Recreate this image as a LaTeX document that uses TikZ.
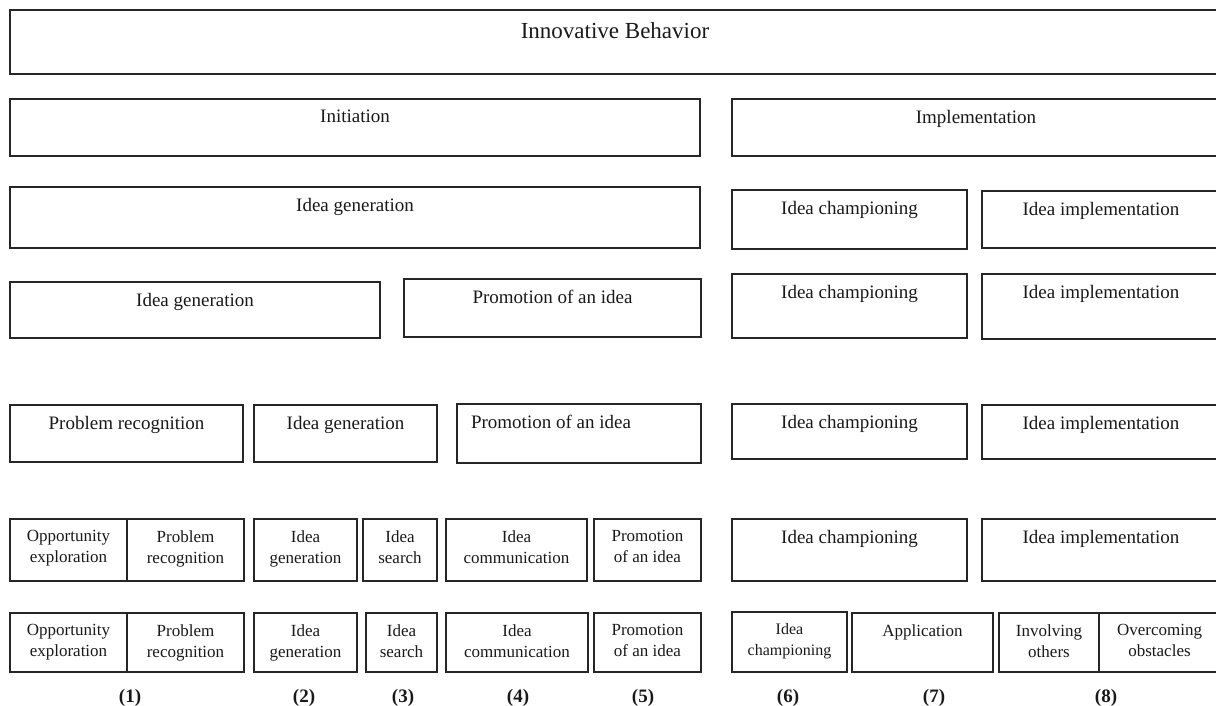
\documentclass[tikz,border=0pt]{standalone}
\usepackage{fontspec}
\setmainfont{Liberation Serif}
\usetikzlibrary{positioning,fit}
\tikzset{
    box/.style={rectangle, draw=black!85, line width=1.2pt, inner sep=0pt, outer sep=0pt},
    lab/.style={anchor=north, inner sep=0pt, yshift=-11pt, align=center, text=black!90, font={\fontsize{19}{21}\selectfont}},
    slab/.style={lab, font={\fontsize{17}{21}\selectfont}},
    tlab/.style={anchor=north, inner sep=0pt, yshift=-12.5pt, text=black!90, font={\fontsize{23}{26}\selectfont}},
    num/.style={inner sep=0pt, text=black!90, font={\bfseries\fontsize{19}{21}\selectfont}},
}

\begin{document}
\begin{tikzpicture}[x=1pt, y=-1pt]
    \path[use as bounding box] (0,0) rectangle (1216,705);
    \clip (0,0) rectangle (1216,705);

    % top level
    \node[box, fit={(10,10) (1220,74)}, label={[tlab]north:Innovative Behavior}] (ib) {};

    % phases
    \node[box, fit={(10,99) (700,156)}, label={[lab]north:Initiation}] (init) {};
    \node[box, fit={(732,99) (1220,156)}, label={[lab]north:Implementation}] (impl) {};

    % two-phase models
    \node[box, fit={(10,187) (700,248)}, label={[lab]north:Idea generation}] (gen2) {};
    \node[box, fit={(732,190) (967,249)}, label={[lab]north:Idea championing}] (champ2) {};
    \node[box, fit={(982,191) (1220,248)}, label={[lab]north:Idea implementation}] (imp2) {};

    % three-phase models
    \node[box, fit={(10,282) (380,338)}, label={[lab]north:Idea generation}] (gen3) {};
    \node[box, fit={(404,279) (701,337)}, label={[lab]north:Promotion of an idea}] (promo3) {};
    \node[box, fit={(732,274) (967,338)}, label={[lab]north:Idea championing}] (champ3) {};
    \node[box, fit={(982,274) (1220,339)}, label={[lab]north:Idea implementation}] (imp3) {};

    % four-phase models
    \node[box, fit={(10,405) (243,462)}, label={[lab]north:Problem recognition}] (prob4) {};
    \node[box, fit={(254,405) (437,462)}, label={[lab]north:Idea generation}] (gen4) {};
    \node[box, fit={(457,404) (701,463)}, label={[lab, xshift=-28pt]north:Promotion of an idea}] (promo4) {};
    \node[box, fit={(732,404) (967,459)}, label={[lab]north:Idea championing}] (champ4) {};
    \node[box, fit={(982,405) (1220,459)}, label={[lab]north:Idea implementation}] (imp4) {};

    % detailed models
    \node[box, fit={(10,519) (127,581)}, label={[slab]north:{Opportunity\\exploration}}] (opp5) {};
    \node[box, fit={(127,519) (244,581)}, label={[slab]north:{Problem\\recognition}}] (prob5) {};
    \node[box, fit={(254,519) (357,581)}, label={[slab]north:{Idea\\generation}}] (gen5) {};
    \node[box, fit={(363,519) (437,581)}, label={[slab]north:{Idea\\search}}] (srch5) {};
    \node[box, fit={(446,519) (587,581)}, label={[slab]north:{Idea\\communication}}] (comm5) {};
    \node[box, fit={(594,519) (701,581)}, label={[slab]north:{Promotion\\of an idea}}] (promo5) {};
    \node[box, fit={(732,519) (967,581)}, label={[lab]north:Idea championing}] (champ5) {};
    \node[box, fit={(982,519) (1220,581)}, label={[lab]north:Idea implementation}] (imp5) {};

    \node[box, fit={(10,613) (127,672)}, label={[slab]north:{Opportunity\\exploration}}] (opp6) {};
    \node[box, fit={(127,613) (244,672)}, label={[slab]north:{Problem\\recognition}}] (prob6) {};
    \node[box, fit={(254,613) (357,672)}, label={[slab]north:{Idea\\generation}}] (gen6) {};
    \node[box, fit={(366,613) (437,672)}, label={[slab]north:{Idea\\search}}] (srch6) {};
    \node[box, fit={(446,613) (588,672)}, label={[slab]north:{Idea\\communication}}] (comm6) {};
    \node[box, fit={(594,613) (701,672)}, label={[slab]north:{Promotion\\of an idea}}] (promo6) {};
    \node[box, fit={(732,612) (847,672)}, label={[slab, font={\fontsize{16}{21}\selectfont}]north:{Idea\\championing}}] (champ6) {};
    \node[box, fit={(852,613) (993,672)}, label={[slab]north:Application}] (appl6) {};
    \node[box, fit={(999,613) (1099,672)}, label={[slab]north:{Involving\\others}}] (inv6) {};
    \node[box, fit={(1099,613) (1220,672)}, label={[slab]north:{Overcoming\\obstacles}}] (over6) {};

    % model numbers
    \foreach \x/\n in {130/1, 304/2, 403/3, 518/4, 643/5, 788/6, 934/7, 1106/8}
        \node[num] (num\n) at (\x,698) {(\n)};
\end{tikzpicture}
\end{document}
